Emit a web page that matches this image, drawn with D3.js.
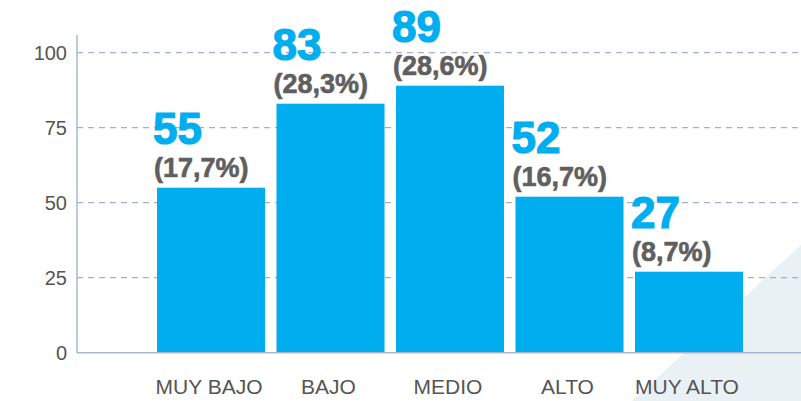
<!DOCTYPE html>
<html lang="es">
<head>
	<meta charset="UTF-8">
	<title>Niveles</title>
	<script src="https://d3js.org/d3.v7.min.js"></script>
	<style>
		body { margin: 0; background: #fff; }
		svg { display: block; }
		.tick-y { font-family: "Liberation Sans", Arial, sans-serif; font-size: 20px; fill: #555; }
		.cat { font-family: "Liberation Sans", Arial, sans-serif; font-size: 21px; fill: #555; }
		.num { font-family: "Liberation Sans", Arial, sans-serif; font-weight: bold; font-size: 44px; fill: #00aeef; stroke: #00aeef; stroke-width: 1.2; }
		.pct { font-family: "Liberation Sans", Arial, sans-serif; font-weight: bold; font-size: 27px; fill: #5f5f5f; stroke: #5f5f5f; stroke-width: 0.6; }
	</style>
</head>
<body>
<div id="chart"></div>
<script>

	// data
	var categories = ["MUY BAJO", "BAJO", "MEDIO", "ALTO", "MUY ALTO"];
	var values = [55, 83, 89, 52, 27];
	var percents = ["(17,7%)", "(28,3%)", "(28,6%)", "(16,7%)", "(8,7%)"];
	var yTicks = [0, 25, 50, 75, 100];

	var w = 801;
	var h = 401;

	var svg = d3.select("#chart").append("svg")
		.attr("width", w)
		.attr("height", h);

	var x = d3.scaleBand()
		.domain(categories)
		.range([157, 743])
		.paddingInner(0.096)
		.paddingOuter(0);

	var y = d3.scaleLinear()
		.domain([0, 100])
		.range([352.7, 52.7]);

	// light corner shape in the background
	svg.append("path")
		.attr("d", "M632,401 L801,245 L801,401 Z")
		.attr("fill", "#e9f1f4");

	// dashed grid
	svg.selectAll(".grid")
		.data(yTicks.filter(function (d) { return d > 0; }))
		.enter()
		.append("line")
		.attr("x1", 77)
		.attr("x2", w)
		.attr("y1", function (d) { return y(d); })
		.attr("y2", function (d) { return y(d); })
		.attr("stroke", "#9fb2c9")
		.attr("stroke-width", 1.3)
		.attr("stroke-dasharray", "6,5");

	// y tick labels
	svg.selectAll(".tick-y")
		.data(yTicks)
		.enter()
		.append("text")
		.attr("class", "tick-y")
		.attr("x", 67)
		.attr("y", function (d) { return y(d); })
		.attr("dy", "0.36em")
		.attr("text-anchor", "end")
		.text(function (d) { return d; });

	// bars
	svg.selectAll(".bar")
		.data(values)
		.enter()
		.append("rect")
		.attr("class", "bar")
		.attr("x", function (d, i) { return x(categories[i]); })
		.attr("y", function (d) { return y(d); })
		.attr("width", x.bandwidth())
		.attr("height", function (d) { return y(0) - y(d); })
		.attr("fill", "#00aeef");

	// axes lines
	svg.append("line")
		.attr("x1", 77).attr("x2", 77)
		.attr("y1", 35).attr("y2", y(0))
		.attr("stroke", "#a7b8cd")
		.attr("stroke-width", 1.5);
	svg.append("line")
		.attr("x1", 77).attr("x2", w)
		.attr("y1", y(0)).attr("y2", y(0))
		.attr("stroke", "#a7b8cd")
		.attr("stroke-width", 1.5);

	// value labels
	svg.selectAll(".num")
		.data(values)
		.enter()
		.append("text")
		.attr("class", "num")
		.attr("x", function (d, i) { return x(categories[i]) - 4; })
		.attr("y", function (d) { return y(d) - 44; })
		.text(function (d) { return d; });

	svg.selectAll(".pct")
		.data(percents)
		.enter()
		.append("text")
		.attr("class", "pct")
		.attr("x", function (d, i) { return x(categories[i]) - 3; })
		.attr("y", function (d, i) { return y(values[i]) - 11; })
		.text(function (d) { return d; });

	// category labels
	svg.selectAll(".cat")
		.data(categories)
		.enter()
		.append("text")
		.attr("class", "cat")
		.attr("x", function (d) { return x(d) + x.bandwidth() / 2 - 2; })
		.attr("y", 394)
		.attr("text-anchor", "middle")
		.text(function (d) { return d; });

</script>
</body>
</html>
